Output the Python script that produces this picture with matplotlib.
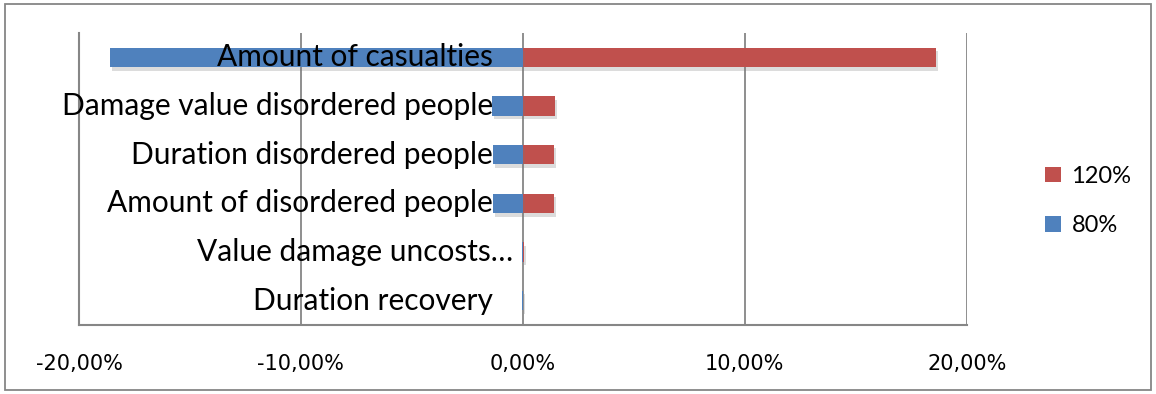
import matplotlib
matplotlib.use("Agg")
import matplotlib.pyplot as plt
import matplotlib.patheffects as pe
from matplotlib.patches import Rectangle

# Sensitivity of each factor when scaled to 80% / 120% (percent change)
categories = ["Amount of casualties",
              "Damage value disordered people",
              "Duration disordered people",
              "Amount of disordered people",
              "Value damage uncosts\u2026",
              "Duration recovery"]
low_80 = [-18.6, -1.40, -1.35, -1.35, -0.03, -0.02]
high_120 = [18.6, 1.45, 1.40, 1.40, 0.03, 0.02]
tick_values = [-20, -10, 0, 10, 20]
tick_labels = ["-20,00%", "-10,00%", "0,00%", "10,00%", "20,00%"]

BLUE = "#4F81BD"
RED = "#C0504D"
GRID = "#868686"

fig = plt.figure(figsize=(11.56, 3.94), dpi=100)
ax = fig.add_axes([0.0683, 0.1751, 0.768, 0.7411])

ypos = list(range(len(categories)))
shadow = [pe.SimplePatchShadow(offset=(1.5, -2.5), shadow_rgbFace="#777777", alpha=0.25),
          pe.Normal()]
bh = 0.4
b1 = ax.barh(ypos, high_120, height=bh, color=RED, zorder=3, label="120%")
b2 = ax.barh(ypos, low_80, height=bh, color=BLUE, zorder=3, label="80%")
for b in list(b1) + list(b2):
    b.set_path_effects(shadow)

ax.set_xlim(-20, 20)
ax.set_ylim(len(categories) - 0.5, -0.5)
ax.set_yticks([])
ax.set_xticks(tick_values)
ax.set_xticklabels(tick_labels, family=["Liberation Sans Narrow", "DejaVu Sans"],
                   fontsize=15)
ax.tick_params(axis="x", length=0, pad=21)
for x in tick_values:
    ax.axvline(x, color=GRID, lw=1.3, zorder=2)
for s in ["top", "right"]:
    ax.spines[s].set_visible(False)
for s in ["left", "bottom"]:
    ax.spines[s].set_color(GRID)
    ax.spines[s].set_linewidth(1.5)

# category labels sit just left of the zero line; the truncated one runs closer
for y, name in zip(ypos, categories):
    xoff = -0.45 if name.endswith("\u2026") else -1.35
    ax.text(xoff, y, name, ha="right", va="center", fontsize=21.5,
            family="Lato", color="black", zorder=5)

leg = fig.legend(handles=[b1, b2], labels=["120%", "80%"],
                 loc="center left", bbox_to_anchor=(0.886, 0.49),
                 frameon=False, handlelength=0.65, handleheight=0.65,
                 labelspacing=1.2, handletextpad=0.45,
                 prop={"family": "Lato", "size": 17})
for h in leg.legend_handles:
    h.set_path_effects([])

fig.patches.append(Rectangle((0.004, 0.01), 0.992, 0.98, transform=fig.transFigure,
                             fill=False, edgecolor=GRID, lw=1.3))

fig.savefig("out.png", dpi=100, facecolor="white")
